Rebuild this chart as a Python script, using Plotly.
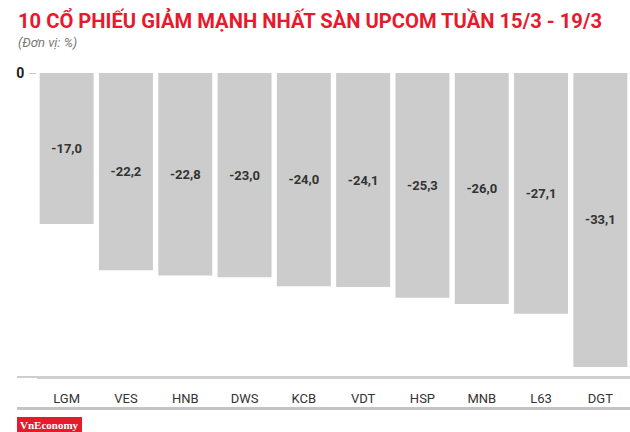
import plotly.graph_objects as go

categories = ["LGM", "VES", "HNB", "DWS", "KCB", "VDT", "HSP", "MNB", "L63", "DGT"]
values = [-17.0, -22.2, -22.8, -23.0, -24.0, -24.1, -25.3, -26.0, -27.1, -33.1]
title_text = "10 CỔ PHIẾU GIẢM MẠNH NHẤT SÀN UPCOM TUẦN 15/3 - 19/3"
subtitle_text = "(Đơn vị: %)"
y_ticks = [0]

W, H = 630, 432
L, R, T, B = 37, 0, 73, 55
pw = W - L - R
ph = H - T - B

def px_x(p):
    return (p - L) / pw

def px_y(p):
    return (H - B - p) / ph

labels = [f"{v:.1f}".replace(".", ",") for v in values]

fig = go.Figure(go.Bar(
    x=categories, y=values, text=labels,
    textposition="inside", insidetextanchor="middle",
    textfont=dict(family="Roboto", size=13, color="#333333", weight="bold"),
    marker=dict(color="#cccccc", line=dict(width=0)),
    textangle=0, cliponaxis=False,
))

def rule_ann(y_center, thickness, color):
    return dict(text=" ", xref="paper", yref="paper", x=px_x(17), y=px_y(y_center),
                xanchor="left", yanchor="middle", showarrow=False,
                width=613, height=thickness, borderpad=0, borderwidth=0,
                bgcolor=color, font=dict(size=1, color=color))

fig.update_layout(
    width=W, height=H,
    margin=dict(l=L, r=R, t=T, b=B),
    paper_bgcolor="white", plot_bgcolor="white",
    bargap=0.09,
    showlegend=False,
    font=dict(family="Roboto", color="#333333"),
    xaxis=dict(showgrid=False, showline=True, linecolor="#cfcfcf", linewidth=1.5,
               zeroline=False, ticks="",
               tickfont=dict(size=13, color="#333333"), ticklabelstandoff=9,
               fixedrange=True),
    yaxis=dict(range=[-34.23, 0], tickvals=y_ticks, ticktext=["0"],
               showgrid=False, zeroline=False, showline=False,
               ticks="outside", ticklen=7, tickcolor="#c8c8c8",
               tickfont=dict(size=14, color="#222222", weight="bold"),
               ticklabelstandoff=2, fixedrange=True),
    shapes=[
        dict(type="rect", xref="paper", yref="paper", x0=px_x(17), x1=px_x(82),
             y0=px_y(432), y1=px_y(417), fillcolor="#e31b2d", line=dict(width=0)),
    ],
    annotations=[
        rule_ann(377.2, 1.5, "#cfcfcf"),
        rule_ann(408, 3, "#c4c4c4"),
        dict(text=title_text, xref="paper", yref="paper", x=px_x(16), y=px_y(20),
             xanchor="left", yanchor="middle", showarrow=False,
             font=dict(family="Roboto", size=20.2, color="#e8192c", weight="bold")),
        dict(text=subtitle_text, xref="paper", yref="paper", x=px_x(16), y=px_y(42),
             xanchor="left", yanchor="middle", showarrow=False,
             font=dict(family="Roboto", size=13, color="#777777", style="italic")),
        dict(text="VnEconomy", xref="paper", yref="paper", x=px_x(49.5), y=px_y(424.5),
             xanchor="center", yanchor="middle", showarrow=False,
             font=dict(family="Liberation Serif", size=11, color="white", weight="bold")),
    ],
)

fig.write_html("out.html", config={"displayModeBar": False},
               post_script="document.body.style.margin='0';document.body.style.padding='0';document.body.style.overflow='hidden';")
